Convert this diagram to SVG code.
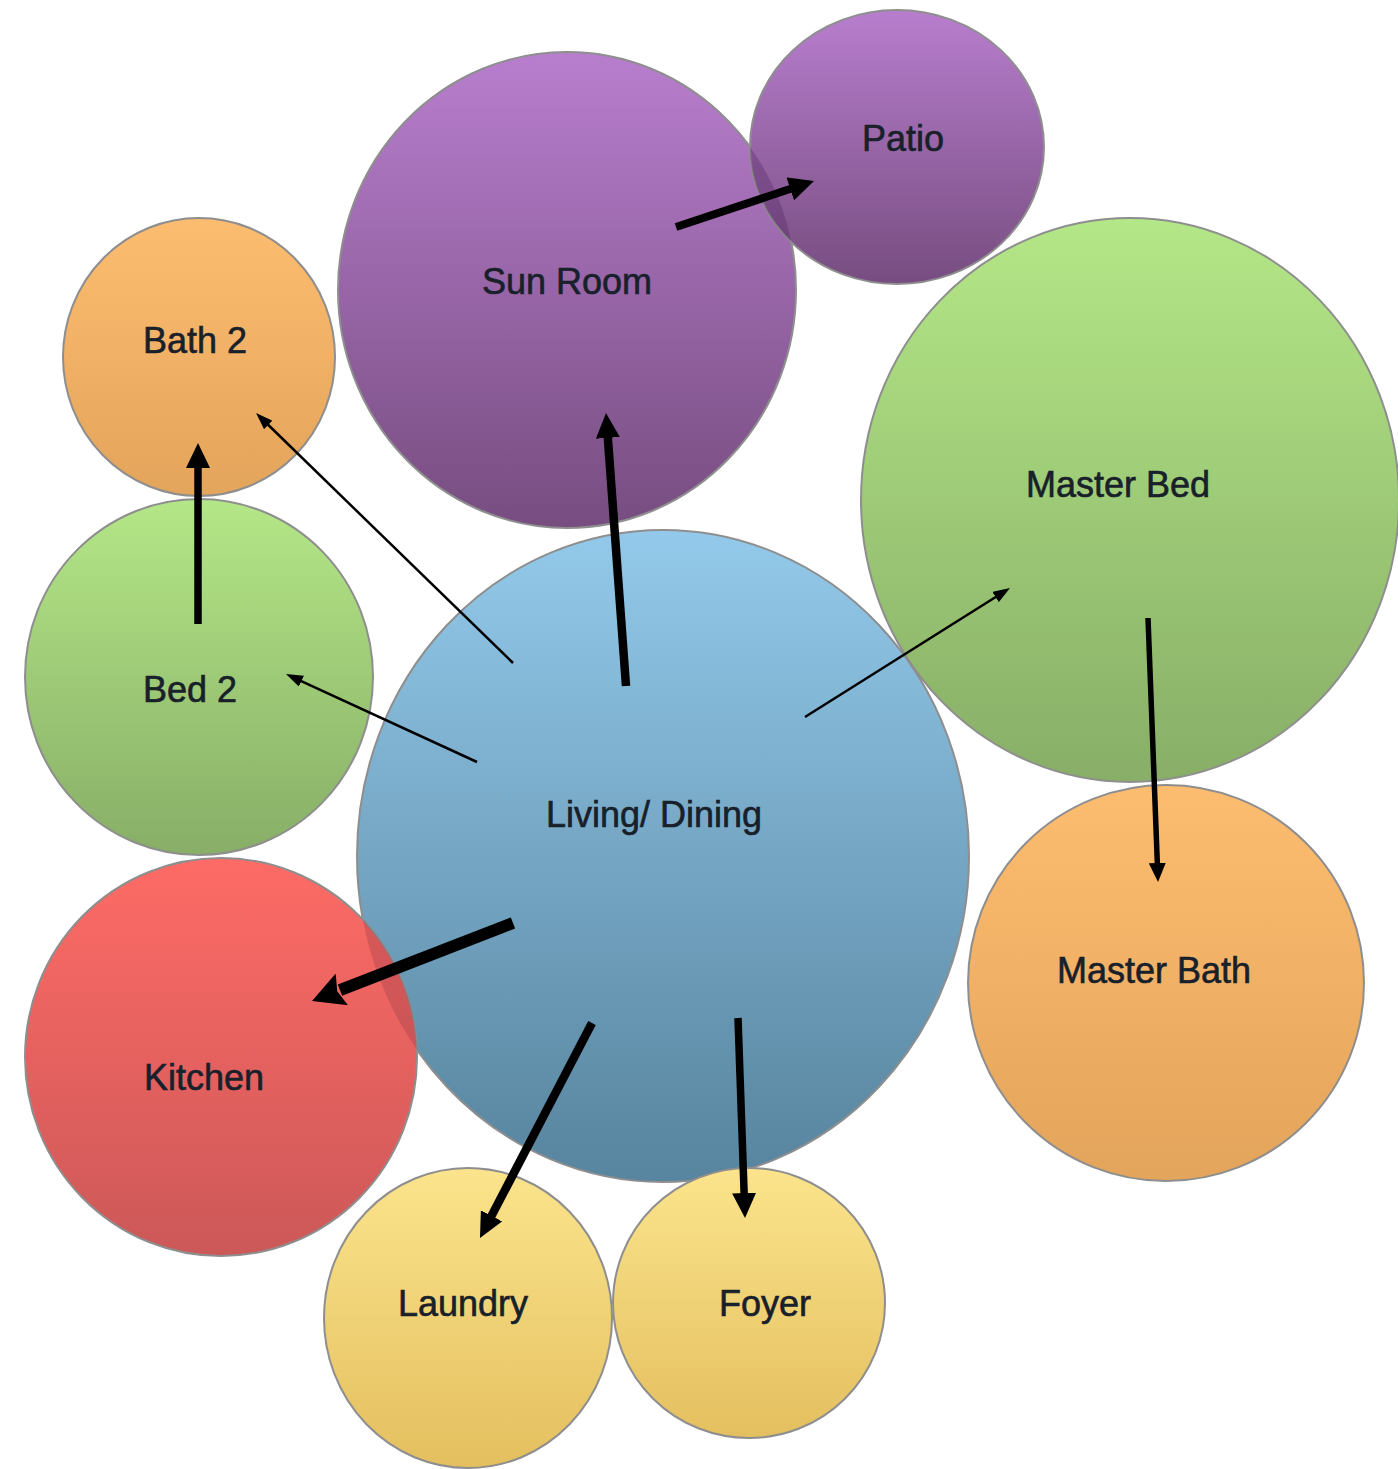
<svg xmlns="http://www.w3.org/2000/svg" width="1398" height="1469" viewBox="0 0 1398 1469">
<style>
.node{stroke:#8e8e8e;stroke-width:2}
.lbl{font-family:"Liberation Sans",Arial,Helvetica,sans-serif;font-size:36px;fill:#18202a;stroke:#18202a;stroke-width:0.6;text-anchor:middle}
.conn line{stroke:#000;fill:none}
</style>
<defs>
<linearGradient id="gPurple" x1="0" y1="0" x2="0" y2="1"><stop offset="0" stop-color="#b87ece"/><stop offset="1" stop-color="#774d80"/></linearGradient>
<linearGradient id="gOrange" x1="0" y1="0" x2="0" y2="1"><stop offset="0" stop-color="#fdbd70"/><stop offset="1" stop-color="#e3a45b"/></linearGradient>
<linearGradient id="gGreen" x1="0" y1="0" x2="0" y2="1"><stop offset="0" stop-color="#b4e787"/><stop offset="1" stop-color="#88ae67"/></linearGradient>
<linearGradient id="gBlue" x1="0" y1="0" x2="0" y2="1"><stop offset="0" stop-color="#93c9ea"/><stop offset="1" stop-color="#57849e"/></linearGradient>
<linearGradient id="gRed" x1="0" y1="0" x2="0" y2="1"><stop offset="0" stop-color="#fe6b66"/><stop offset="1" stop-color="#cc5858"/></linearGradient>
<linearGradient id="gYellow" x1="0" y1="0" x2="0" y2="1"><stop offset="0" stop-color="#fbe48c"/><stop offset="1" stop-color="#e4bf5f"/></linearGradient>
<clipPath id="clipSun"><ellipse cx="567" cy="290" rx="229" ry="238"/></clipPath>
<clipPath id="clipLiving"><ellipse cx="663" cy="856" rx="306" ry="326"/></clipPath>
<marker id="hA" markerUnits="userSpaceOnUse" viewBox="0 0 25 24" markerWidth="25" markerHeight="24" refX="2" refY="12" orient="auto"><path d="M0,0 L25,12 L0,24 z" fill="#000"/></marker>
<marker id="hS" markerUnits="userSpaceOnUse" viewBox="0 0 17 12" markerWidth="17" markerHeight="12" refX="2" refY="6" orient="auto"><path d="M0,0 L17,6 L0,12 z" fill="#000"/></marker>
<marker id="hM" markerUnits="userSpaceOnUse" viewBox="0 0 19 17" markerWidth="19" markerHeight="17" refX="2" refY="8.5" orient="auto"><path d="M0,0 L19,8.5 L0,17 z" fill="#000"/></marker>
<marker id="hK" markerUnits="userSpaceOnUse" viewBox="0 0 32 34" markerWidth="32" markerHeight="34" refX="2" refY="17" orient="auto"><path d="M0,0 L32,17 L0,34 L5,17 z" fill="#000"/></marker>
</defs>
<rect x="0" y="0" width="1398" height="1469" fill="#fff"/>

<g id="sun-room">
<ellipse class="node" cx="567" cy="290" rx="229" ry="238" fill="url(#gPurple)"/>
<text class="lbl" x="567" y="294">Sun Room</text>
</g>
<g id="patio">
<ellipse class="node" cx="897" cy="147" rx="147" ry="137" fill="url(#gPurple)"/>
<g clip-path="url(#clipSun)"><ellipse cx="897" cy="147" rx="147" ry="137" fill="#4a1f5a" fill-opacity="0.3"/></g>
<text class="lbl" x="903" y="151">Patio</text>
</g>
<g id="bath-2">
<ellipse class="node" cx="199" cy="357" rx="136" ry="139" fill="url(#gOrange)"/>
<text class="lbl" x="195" y="353">Bath 2</text>
</g>
<g id="bed-2">
<ellipse class="node" cx="199" cy="677" rx="174" ry="178" fill="url(#gGreen)"/>
<text class="lbl" x="190" y="702">Bed 2</text>
</g>
<g id="master-bed">
<ellipse class="node" cx="1130" cy="500" rx="269" ry="282" fill="url(#gGreen)"/>
<text class="lbl" x="1118" y="497">Master Bed</text>
</g>
<g id="master-bath">
<ellipse class="node" cx="1166" cy="983" rx="198" ry="198" fill="url(#gOrange)"/>
<text class="lbl" x="1154" y="983">Master Bath</text>
</g>
<g id="living-dining">
<ellipse class="node" cx="663" cy="856" rx="306" ry="326" fill="url(#gBlue)"/>
<text class="lbl" x="654" y="827">Living/ Dining</text>
</g>
<g id="kitchen">
<ellipse class="node" cx="221" cy="1057" rx="196" ry="199" fill="url(#gRed)"/>
<g clip-path="url(#clipLiving)"><ellipse cx="221" cy="1057" rx="196" ry="199" fill="#7a2a3a" fill-opacity="0.25"/></g>
<text class="lbl" x="204" y="1090">Kitchen</text>
</g>
<g id="laundry">
<ellipse class="node" cx="468" cy="1318" rx="144" ry="150" fill="url(#gYellow)"/>
<text class="lbl" x="463" y="1316">Laundry</text>
</g>
<g id="foyer">
<ellipse class="node" cx="749" cy="1303" rx="136" ry="135" fill="url(#gYellow)"/>
<text class="lbl" x="765" y="1316">Foyer</text>
</g>

<g id="connectors" class="conn">
<line x1="676" y1="227" x2="792.2" y2="188.3" stroke-width="8" marker-end="url(#hA)"/>
<line x1="626" y1="686" x2="607.7" y2="435.9" stroke-width="8.5" marker-end="url(#hA)"/>
<line x1="198" y1="624" x2="198" y2="466" stroke-width="7.5" marker-end="url(#hA)"/>
<line x1="513" y1="663" x2="266.8" y2="423.5" stroke-width="2.5" marker-end="url(#hS)"/>
<line x1="477" y1="762" x2="299.6" y2="680.3" stroke-width="2.5" marker-end="url(#hS)"/>
<line x1="805" y1="717" x2="997.3" y2="596" stroke-width="2.5" marker-end="url(#hS)"/>
<line x1="1148" y1="618" x2="1157.4" y2="865" stroke-width="5.5" marker-end="url(#hM)"/>
<line x1="513" y1="923" x2="340" y2="990.1" stroke-width="12" marker-end="url(#hK)"/>
<line x1="592" y1="1023" x2="490.6" y2="1217.6" stroke-width="8.5" marker-end="url(#hA)"/>
<line x1="738" y1="1018" x2="744.2" y2="1195" stroke-width="7.5" marker-end="url(#hA)"/>
</g>
</svg>
